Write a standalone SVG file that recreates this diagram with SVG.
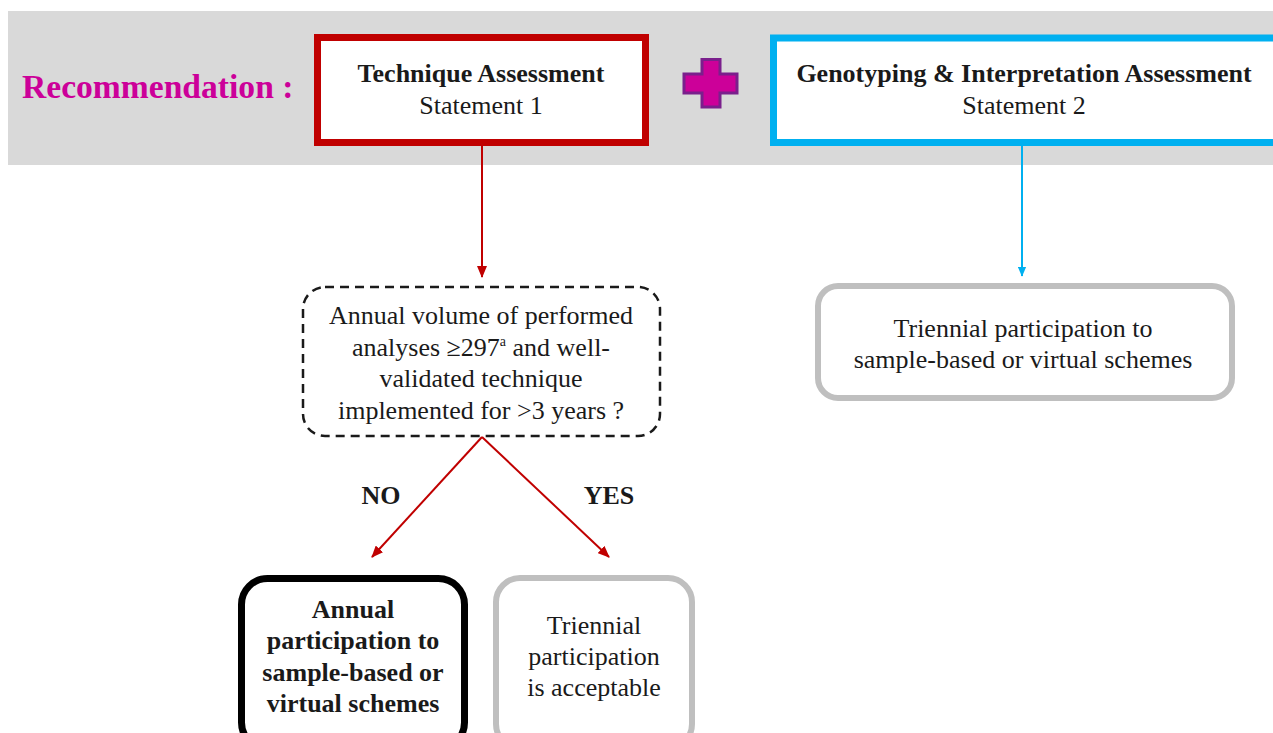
<svg xmlns="http://www.w3.org/2000/svg" width="1273" height="733" viewBox="0 0 1273 733">
<defs>
<style>
.t{font-family:"Liberation Serif","Times New Roman",serif;fill:#1a1a1a;text-anchor:middle;font-size:26px}
.b{font-weight:bold}
.red{stroke:#c00000;stroke-width:2;fill:none}
.blue{stroke:#00b0f0;stroke-width:2;fill:none}
</style>
<marker id="ar" viewBox="0 0 12 10" refX="11" refY="5" markerWidth="12" markerHeight="10" orient="auto" markerUnits="userSpaceOnUse"><path d="M0,0 L12,5 L0,10 z" fill="#c00000"/></marker>
<marker id="ab" viewBox="0 0 12 10" refX="11" refY="5" markerWidth="10" markerHeight="9" orient="auto" markerUnits="userSpaceOnUse"><path d="M0,0 L12,5 L0,10 z" fill="#00b0f0"/></marker>
</defs>
<rect width="1273" height="733" fill="#ffffff"/>
<rect x="8" y="11" width="1265" height="154" fill="#d9d9d9"/>
<text x="22" y="98" font-family="Liberation Serif, serif" font-weight="bold" font-size="33.6" fill="#cc0099">Recommendation :</text>
<g id="plus"><path d="M702,59.5 H720 V74 H737 V93 H720 V107 H702 V93 H684 V74 H702 Z" fill="#cc0099" stroke="#7a1f8c" stroke-width="3"/></g>
<g id="connectors">
<line x1="482" y1="146" x2="482" y2="277" class="red" marker-end="url(#ar)"/>
<line x1="482" y1="437" x2="372" y2="557" class="red" marker-end="url(#ar)"/>
<line x1="482" y1="437" x2="609" y2="557" class="red" marker-end="url(#ar)"/>
<line x1="1022" y1="146" x2="1022" y2="276" class="blue" marker-end="url(#ab)"/>
</g>
<g id="technique">
<rect x="317.5" y="37.5" width="328" height="105" fill="#ffffff" stroke="#c00000" stroke-width="7"/>
<text class="t b" x="481" y="82">Technique Assessment</text>
<text class="t" x="481" y="114">Statement 1</text>
</g>
<g id="genotyping">
<rect x="773.5" y="38" width="510" height="104.5" fill="#ffffff" stroke="#00b0f0" stroke-width="7"/>
<text class="t b" x="1024" y="82">Genotyping &amp; Interpretation Assessment</text>
<text class="t" x="1024" y="114">Statement 2</text>
</g>
<g id="question">
<rect x="303" y="287" width="357" height="149" rx="22" fill="#ffffff" stroke="#1a1a1a" stroke-width="2.5" stroke-dasharray="9,6"/>
<text class="t" x="481" y="324">Annual volume of performed</text>
<text class="t" x="481" y="356">analyses ≥297<tspan font-size="14" dy="-10">a</tspan><tspan dy="10"> and well-</tspan></text>
<text class="t" x="481" y="387">validated technique</text>
<text class="t" x="481" y="419">implemented for &gt;3 years ?</text>
</g>
<text class="t b" x="381" y="504">NO</text>
<text class="t b" x="609" y="504">YES</text>
<g id="annual">
<rect x="241.5" y="578.5" width="223" height="170" rx="26" fill="#ffffff" stroke="#000000" stroke-width="7"/>
<text class="t b" x="353" y="618">Annual</text>
<text class="t b" x="353" y="649">participation to</text>
<text class="t b" x="353" y="681">sample-based or</text>
<text class="t b" x="353" y="712">virtual schemes</text>
</g>
<g id="triennial-yes">
<rect x="496" y="578" width="196" height="170" rx="24" fill="#ffffff" stroke="#bfbfbf" stroke-width="6"/>
<text class="t" x="594" y="634">Triennial</text>
<text class="t" x="594" y="665">participation</text>
<text class="t" x="594" y="696">is acceptable</text>
</g>
<g id="triennial-geno">
<rect x="818" y="286" width="414" height="112" rx="20" fill="#ffffff" stroke="#bfbfbf" stroke-width="6"/>
<text class="t" x="1023" y="337">Triennial participation to</text>
<text class="t" x="1023" y="368">sample-based or virtual schemes</text>
</g>
</svg>
